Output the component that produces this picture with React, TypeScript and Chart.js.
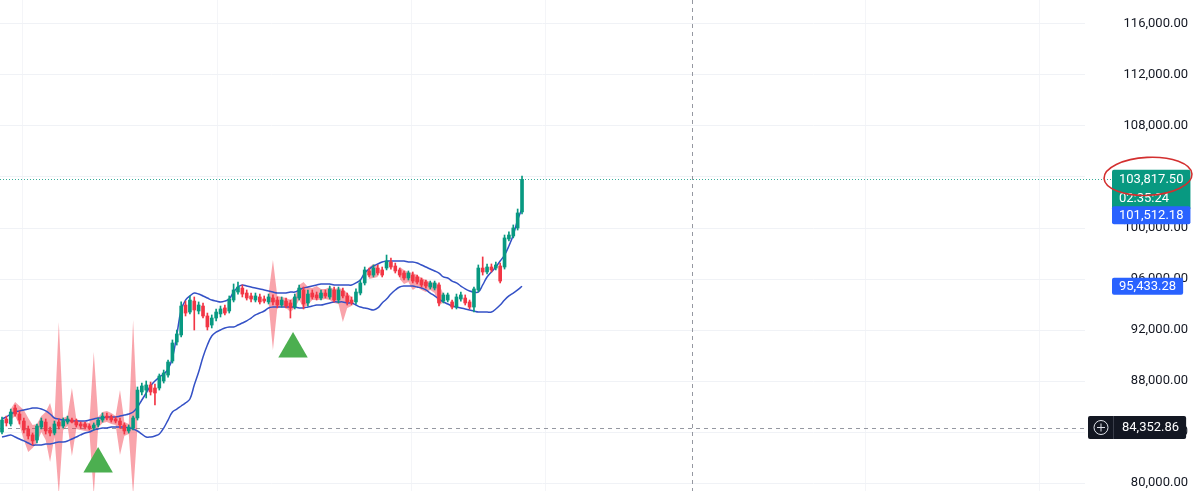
import React, { useEffect, useRef } from 'react';
import { Chart, registerables } from 'chart.js';

Chart.register(...registerables);

const N = null;

const opens = [
  84000, 85020, 84630, 85880, 85410, 84860, 84240, 83770, 83370, 84390,
  84780, 84160, 83920, 84780, 84470, 84780, 84940, 84860, 84630, 84630,
  84470, 84310, 84550, 84940, 85250, 85180, 85020, 84860, 84550, 84080,
  84310, 85100, 87140, 87290, 87690, 87450, 87450, 88000, 88470, 89570,
  91060, 91610, 93960, 93410, 94270, 93490, 93880, 93100, 92390, 92940,
  93260, 93730, 93490, 94350, 94980, 95290, 94900, 94670, 94350, 94590,
  94430, 94200, 94510, 94350, 93960, 94270, 94120, 93800, 94510, 95140,
  94120, 94900, 94750, 94510, 94900, 94590, 95140, 94350, 95060, 94670,
  94350, 94200, 94900, 95690, 96630, 96310, 96860, 96710, 96860, 97330,
  97020, 96710, 96470, 96080, 96310, 96160, 95920, 95760, 95370, 95290,
  95530, 94270, 94350, 94200, 93800, 94430, 94510, 94200, 93800, 95140,
  96860, 96550, 96940, 96860, 97020, 96940, 99140, 99370, 100000, 101260,
];

const highs = [
  85180, 85250, 85800, 86120, 85650, 85100, 84470, 83920, 84630, 85100,
  85020, 84390, 84860, 85020, 85100, 85250, 85100, 85020, 84780, 84780,
  84630, 84710, 85100, 85490, 85490, 85330, 85180, 85100, 84710, 84550,
  85250, 87530, 87840, 88000, 87920, 87760, 88550, 88860, 89650, 91220,
  92000, 94200, 94270, 94670, 94590, 94200, 94120, 93330, 93180, 93650,
  93880, 93960, 94670, 95610, 95760, 95530, 95140, 94900, 94900, 94820,
  94670, 94820, 94750, 94590, 94590, 94510, 94350, 94820, 95530, 95370,
  95140, 95140, 94980, 95140, 95140, 95450, 95370, 95370, 95290, 94900,
  94590, 95220, 95920, 96940, 96860, 97100, 97100, 96940, 97880, 97650,
  97250, 96860, 96630, 96630, 96550, 96310, 96080, 95920, 95840, 95840,
  95690, 94900, 94900, 94350, 94820, 94980, 94750, 94350, 95370, 97100,
  97730, 97180, 97180, 97330, 97250, 99450, 99690, 100240, 101490, 104080,
];

const lows = [
  83840, 84470, 84470, 85250, 84630, 83920, 83450, 82980, 83140, 84240,
  83840, 83690, 83770, 84240, 84310, 84630, 84710, 84390, 84310, 84240,
  84160, 84160, 84390, 84780, 84940, 84780, 84710, 84310, 83840, 83920,
  84160, 84940, 86900, 86670, 86900, 86120, 87290, 87840, 88310, 89410,
  90820, 91450, 93100, 93260, 92000, 93260, 92940, 92000, 92160, 92710,
  93020, 93180, 93330, 94200, 94820, 94590, 94350, 94200, 94200, 94040,
  94120, 94040, 93960, 93730, 93800, 93730, 92940, 93650, 94350, 93650,
  93880, 94430, 94350, 94350, 94510, 94430, 94200, 94120, 94510, 93960,
  93960, 94040, 94750, 95530, 96160, 96160, 96310, 96160, 96710, 96780,
  96470, 96160, 95920, 95920, 95690, 95610, 95370, 95290, 95220, 95140,
  93880, 94120, 94200, 93650, 93650, 94270, 93960, 93650, 93410, 94980,
  96310, 96390, 96550, 96710, 95690, 96780, 98980, 99220, 99840, 101100,
];

const closes = [
  84940, 84710, 85570, 85410, 84940, 84160, 83690, 83300, 84470, 84860,
  84080, 83920, 84630, 84470, 84860, 85020, 84780, 84550, 84470, 84390,
  84310, 84550, 84940, 85250, 85100, 84940, 84860, 84550, 84080, 84390,
  85100, 87290, 87610, 87690, 87140, 87060, 88390, 88630, 89490, 90980,
  91690, 93880, 93330, 94350, 93570, 93960, 93100, 92240, 92940, 93410,
  93650, 93330, 94430, 95140, 95370, 94820, 94510, 94430, 94670, 94200,
  94270, 94590, 94200, 93960, 94350, 93880, 93730, 94590, 95290, 94040,
  94820, 94590, 94510, 94900, 94670, 95220, 94350, 95140, 94670, 94200,
  94120, 94980, 95690, 96710, 96310, 96860, 96470, 96310, 97410, 96940,
  96630, 96310, 96080, 96470, 95840, 95760, 95530, 95450, 95690, 95690,
  94120, 94750, 94750, 93800, 94590, 94750, 94120, 93800, 95220, 96860,
  96550, 96940, 96710, 97100, 95840, 99220, 99450, 100000, 101180, 103817.5,
];

const upperBand = [
  85020, 85180, 85410, 85570, 85650, 85730, 85800, 85880, 85880, 85800,
  85650, 85410, 85100, 85020, 84940, 84940, 84860, 84860, 84860, 84860,
  84940, 85020, 85100, 85100, 85180, 85180, 85180, 85250, 85330, 85410,
  85570, 85960, 86510, 87060, 87610, 88000, 88310, 88550, 88940, 89800,
  91610, 93570, 94350, 94670, 94900, 94820, 94670, 94510, 94350, 94270,
  94200, 94270, 94430, 94980, 95370, 95530, 95450, 95370, 95290, 95220,
  95140, 95060, 94980, 94900, 94900, 94900, 94980, 94980, 95140, 95290,
  95370, 95450, 95530, 95610, 95610, 95610, 95530, 95530, 95530, 95530,
  95530, 95690, 95920, 96470, 96780, 97020, 97180, 97330, 97410, 97410,
  97410, 97410, 97410, 97330, 97330, 97250, 97100, 96940, 96780, 96630,
  96470, 96160, 96080, 95840, 95690, 95450, 95220, 95060, 94980, 94980,
  95530, 96160, 96550, 96940, 97410, 97880, 98590, 99450, 100630, 101512.18,
];

const lowerBand = [
  83610, 83690, 83770, 83610, 83450, 83300, 83140, 82980, 82980, 82980,
  83060, 83060, 83140, 83220, 83220, 83300, 83450, 83610, 83770, 83920,
  84000, 84160, 84240, 84310, 84310, 84390, 84390, 84390, 84390, 84310,
  84240, 84080, 83840, 83610, 83610, 83690, 83840, 84310, 84940, 85570,
  85800, 86040, 86280, 86590, 87690, 88710, 89880, 90820, 91530, 91840,
  92000, 92160, 92240, 92240, 92390, 92550, 92710, 92940, 93180, 93330,
  93490, 93730, 93800, 93800, 93800, 93800, 93800, 93800, 93730, 93730,
  93800, 93880, 93960, 93960, 94040, 94120, 94200, 94200, 94200, 94120,
  94120, 93960, 93800, 93730, 93650, 93570, 93730, 94120, 94430, 94820,
  95140, 95370, 95450, 95450, 95450, 95370, 95290, 95140, 94900, 94670,
  94430, 94200, 94040, 93880, 93800, 93730, 93650, 93570, 93490, 93410,
  93410, 93410, 93410, 93650, 93960, 94350, 94670, 94900, 95140, 95433.28,
];

const pinkTop = [
  N, N, 85800, 86350, 86040, 85730, 85100, 84550, 84630, 85250,
  85570, 86270, 84940, 92630, 85100, 85250, 87450, 85020, 84860, 84780,
  84710, 90270, 85180, 85570, 85650, 85490, 85250, 87290, 84780, 84630,
  92780, 84940, N, N, N, N, N, N, N, N,
  N, N, N, N, N, N, N, N, N, N,
  N, N, N, N, N, N, N, N, N, N,
  N, 94820, 97490, 94670, 94590, 94510, 94350, 94670, 95530, 95760,
  95370, 95290, 95450, 95220, 95220, 95370, 95220, 95290, 95220, 94900,
  94590, N, N, N, 96940, 97180, 97020, N, N, N,
  N, 96940, 96710, 96550, 96470, 96310, 96080, 95920, 95760, 95690,
  95610, 94820, N, N, N, N, N, N, N, N,
  N, N, N, N, N, N, N, N, N, N,
];

const pinkBottom = [
  N, N, 84940, 85250, 84550, 83370, 82430, 82750, 83140, 84000,
  83370, 81650, 83610, 79060, 84160, 84470, 82120, 84240, 84160, 84080,
  84000, 79060, 84310, 84710, 84780, 84630, 84550, 82200, 83690, 83840,
  79060, 84310, N, N, N, N, N, N, N, N,
  N, N, N, N, N, N, N, N, N, N,
  N, N, N, N, N, N, N, N, N, N,
  N, 94040, 90430, 93730, 93880, 93730, 93410, 93730, 94350, 93730,
  93960, 94350, 94350, 94350, 94430, 94350, 94120, 94040, 92630, 93730,
  93880, N, N, N, 96000, 96080, 96160, N, N, N,
  N, 96000, 95610, 95760, 95140, 95370, 95140, 94980, 95140, 94900,
  93880, 94200, N, N, N, N, N, N, N, N,
  N, N, N, N, N, N, N, N, N, N,
];

const signalIndex = [22, 66.6];
const signalPrice = [81490, 90510];

const yTicks = [80000, 84000, 88000, 92000, 96000, 100000, 104000, 108000, 112000, 116000];
const xGridIndex = [4.6, 49.4, 93.8, 124.3, 197.5, 237.5];

const crosshairIndex = 158;
const crosshairPrice = 84352.86;
const countdown = '02:35:24';

const GREEN = '#089981';
const RED = '#f23645';
const BLUE_LINE = '#3451c6';
const PINK = 'rgba(242, 54, 69, 0.45)';
const LABEL_BLUE = '#2962ff';
const DARK = '#131722';
const FONT = 'Roboto, "Noto Sans", sans-serif';

const fmt = (v: number) =>
  Number(v).toLocaleString('en-US', { minimumFractionDigits: 2, maximumFractionDigits: 2 });

const idx = opens.map((_, i) => i);
const candleColors = idx.map((i) => (closes[i] >= opens[i] ? GREEN : RED));

function roundBox(ctx: CanvasRenderingContext2D, x: number, y: number, w: number, h: number, color: string) {
  ctx.fillStyle = color;
  ctx.beginPath();
  (ctx as any).roundRect(x, y, w, h, 2);
  ctx.fill();
}

const overlayPlugin = {
  id: 'overlay',
  beforeDatasetsDraw(chart: any) {
    const { ctx } = chart;
    const xs = chart.scales.x;
    const ys = chart.scales.y;
    ctx.save();
    ctx.lineWidth = 1;
    ctx.strokeStyle = '#9598a1';
    ctx.setLineDash([4, 4]);
    const cx = Math.round(xs.getPixelForValue(crosshairIndex)) + 0.5;
    ctx.beginPath();
    ctx.moveTo(cx, 0);
    ctx.lineTo(cx, chart.height);
    ctx.stroke();
    const hy = Math.round(ys.getPixelForValue(crosshairPrice)) + 0.5;
    ctx.beginPath();
    ctx.moveTo(0, hy);
    ctx.lineTo(1088, hy);
    ctx.stroke();
    const py = Math.round(ys.getPixelForValue(closes[closes.length - 1])) + 0.5;
    ctx.strokeStyle = 'rgba(8,153,129,0.8)';
    ctx.setLineDash([1, 2]);
    ctx.beginPath();
    ctx.moveTo(0, py);
    ctx.lineTo(1112, py);
    ctx.stroke();
    ctx.restore();
  },
  afterDraw(chart: any) {
    const { ctx } = chart;
    const ys = chart.scales.y;
    const last = closes.length - 1;
    ctx.save();
    ctx.font = `13px ${FONT}`;
    ctx.textBaseline = 'middle';
    ctx.textAlign = 'left';

    const py = ys.getPixelForValue(closes[last]);
    const priceText = fmt(closes[last]);
    const tw = ctx.measureText(priceText).width;
    const tealTop = py - 9.5;
    roundBox(ctx, 1112, tealTop, tw + 14, 40, GREEN);
    ctx.fillStyle = '#ffffff';
    ctx.fillText(priceText, 1119, py + 0.5);
    ctx.fillText(countdown, 1119, py + 19);

    const yu = ys.getPixelForValue(upperBand[last]);
    const uText = fmt(upperBand[last]);
    const uw = ctx.measureText(uText).width;
    const uTop = Math.max(yu - 9, tealTop + 36.5);
    roundBox(ctx, 1112, uTop, uw + 14, 18, LABEL_BLUE);
    ctx.fillStyle = '#ffffff';
    ctx.fillText(uText, 1119, uTop + 9.5);

    const yl = ys.getPixelForValue(lowerBand[last]);
    const lText = fmt(lowerBand[last]);
    const lw = ctx.measureText(lText).width;
    roundBox(ctx, 1112, yl - 8.5, lw + 14, 17, LABEL_BLUE);
    ctx.fillStyle = '#ffffff';
    ctx.fillText(lText, 1119, yl + 0.5);

    const hy = ys.getPixelForValue(crosshairPrice);
    const cText = fmt(crosshairPrice);
    const cw = ctx.measureText(cText).width;
    roundBox(ctx, 1088, hy - 11.5, 34 + cw + 7, 23, DARK);
    ctx.strokeStyle = '#3a3e4a';
    ctx.lineWidth = 1;
    ctx.beginPath();
    ctx.moveTo(1113.5, hy - 11.5);
    ctx.lineTo(1113.5, hy + 11.5);
    ctx.stroke();
    ctx.strokeStyle = '#e0e3eb';
    ctx.beginPath();
    ctx.arc(1101, hy, 7, 0, Math.PI * 2);
    ctx.stroke();
    ctx.beginPath();
    ctx.moveTo(1097, hy);
    ctx.lineTo(1105, hy);
    ctx.moveTo(1101, hy - 4);
    ctx.lineTo(1101, hy + 4);
    ctx.stroke();
    ctx.fillStyle = '#ffffff';
    ctx.fillText(cText, 1122, hy + 0.5);

    ctx.strokeStyle = '#d32f2f';
    ctx.lineWidth = 1.6;
    ctx.beginPath();
    ctx.ellipse(1148, py - 3, 44, 19, -0.05, 0, Math.PI * 2);
    ctx.stroke();
    ctx.restore();
  },
};

export default function App() {
  const ref = useRef<HTMLCanvasElement>(null);

  useEffect(() => {
    const canvas = ref.current;
    if (!canvas) return;
    const chart = new Chart(canvas, {
      type: 'bar',
      data: {
        datasets: [
          {
            type: 'bar',
            label: 'body',
            data: idx.map((i) => ({ x: i, y: [opens[i], closes[i]] })) as any,
            backgroundColor: candleColors,
            borderWidth: 0,
            barThickness: 3,
            minBarLength: 1,
            grouped: false,
            order: 0,
          } as any,
          {
            type: 'bar',
            label: 'wick',
            data: idx.map((i) => ({ x: i, y: [lows[i], highs[i]] })) as any,
            backgroundColor: candleColors,
            borderWidth: 0,
            barThickness: 1,
            grouped: false,
            order: 1,
          } as any,
          {
            type: 'scatter',
            label: 'signals',
            data: signalIndex.map((x, k) => ({ x, y: signalPrice[k] })),
            pointStyle: 'triangle',
            pointRadius: 17,
            pointHoverRadius: 17,
            backgroundColor: '#4caf50',
            borderWidth: 0,
            borderColor: 'transparent',
            order: 0,
          } as any,
          {
            type: 'line',
            label: 'upper',
            data: idx.map((i) => ({ x: i, y: upperBand[i] })),
            borderColor: BLUE_LINE,
            borderWidth: 1.5,
            pointRadius: 0,
            tension: 0.4,
            fill: false,
            order: 2,
          } as any,
          {
            type: 'line',
            label: 'lower',
            data: idx.map((i) => ({ x: i, y: lowerBand[i] })),
            borderColor: BLUE_LINE,
            borderWidth: 1.5,
            pointRadius: 0,
            tension: 0.4,
            fill: false,
            order: 2,
          } as any,
          {
            type: 'line',
            label: 'pinkTop',
            data: idx.map((i) => ({ x: i, y: pinkTop[i] })),
            borderColor: 'transparent',
            borderWidth: 0,
            pointRadius: 0,
            tension: 0,
            spanGaps: false,
            fill: '+1',
            backgroundColor: PINK,
            order: 3,
          } as any,
          {
            type: 'line',
            label: 'pinkBottom',
            data: idx.map((i) => ({ x: i, y: pinkBottom[i] })),
            borderColor: 'transparent',
            borderWidth: 0,
            pointRadius: 0,
            tension: 0,
            spanGaps: false,
            fill: false,
            order: 3,
          } as any,
        ],
      },
      options: {
        responsive: false,
        maintainAspectRatio: false,
        devicePixelRatio: 1,
        animation: false,
        layout: { padding: { left: 0, top: 0, bottom: 0, right: 12 }, autoPadding: false },
        plugins: { legend: { display: false }, tooltip: { enabled: false } },
        events: [],
        scales: {
          x: {
            type: 'linear',
            min: -0.458,
            max: 247.83,
            offset: false,
            display: true,
            ticks: { display: false },
            grid: { color: '#f4f5f8', drawTicks: false, offset: false },
            border: { display: false },
            afterBuildTicks: (s: any) => {
              s.ticks = xGridIndex.map((v) => ({ value: v }));
            },
            afterFit: (s: any) => {
              s.height = 0;
              s.paddingLeft = 0;
              s.paddingRight = 0;
            },
          },
          y: {
            type: 'linear',
            position: 'right',
            min: 79373,
            max: 117882,
            ticks: {
              crossAlign: 'far',
              padding: 0,
              color: DARK,
              font: { family: FONT, size: 13 },
              callback: (v: any) => fmt(Number(v)),
            },
            grid: { color: '#f0f2f6', drawTicks: false },
            border: { display: false },
            afterBuildTicks: (s: any) => {
              s.ticks = yTicks.map((v) => ({ value: v }));
            },
            afterFit: (s: any) => {
              s.width = 103;
              s.paddingTop = 0;
              s.paddingBottom = 0;
            },
          },
        } as any,
      },
      plugins: [overlayPlugin],
    } as any);
    return () => chart.destroy();
  }, []);

  return (
    <div style={{ position: 'fixed', left: 0, top: 0, width: 1200, height: 491, background: '#ffffff' }}>
      <canvas ref={ref} width={1200} height={491} style={{ display: 'block', width: 1200, height: 491 }} />
    </div>
  );
}
